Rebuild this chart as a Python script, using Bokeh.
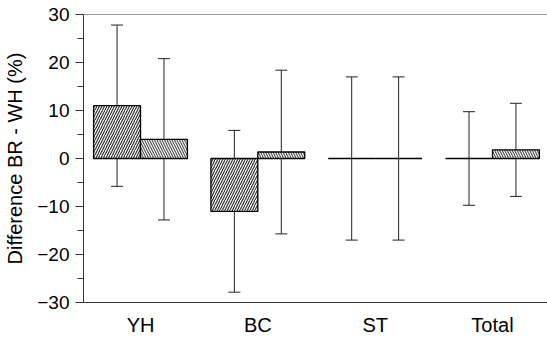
from bokeh.plotting import figure
from bokeh.models import ColumnDataSource, Whisker, TeeHead, Span, FixedTicker
from bokeh.embed import file_html
from bokeh.resources import INLINE

categories = ["YH", "BC", "ST", "Total"]
series1 = [11.0, -11.0, 0.0, 0.0]
err1 = [16.8, 16.85, 17.0, 9.75]
series2 = [4.0, 1.35, 0.0, 1.8]
err2 = [16.8, 17.05, 17.0, 9.7]
y_ticks = [-30, -20, -10, 0, 10, 20, 30]

pos = list(range(len(categories)))
bw = 0.4
x1 = [p - bw / 2 for p in pos]
x2 = [p + bw / 2 for p in pos]

src1 = ColumnDataSource(dict(x=x1, top=series1,
                             upper=[v + e for v, e in zip(series1, err1)],
                             lower=[v - e for v, e in zip(series1, err1)]))
src2 = ColumnDataSource(dict(x=x2, top=series2,
                             upper=[v + e for v, e in zip(series2, err2)],
                             lower=[v - e for v, e in zip(series2, err2)]))

p = figure(width=547, height=338, output_backend="svg", toolbar_location=None,
           x_range=(-0.486, 3.469), y_range=(-30, 30),
           min_border_left=83, min_border_right=0, min_border_top=14, min_border_bottom=32)
p.outline_line_color = None
p.background_fill_color = "white"
p.border_fill_color = "white"
p.grid.visible = False

p.vbar(x="x", top="top", bottom=0, width=bw, source=src1,
       fill_color="white", line_color="black", line_width=1.3,
       hatch_pattern="right_diagonal_line", hatch_color="#333333",
       hatch_scale=5, hatch_weight=1.2)
p.vbar(x="x", top="top", bottom=0, width=bw, source=src2,
       fill_color="white", line_color="black", line_width=1.3,
       hatch_pattern="left_diagonal_line", hatch_color="#555555",
       hatch_scale=5, hatch_weight=1.2)

for s in (src1, src2):
    w = Whisker(base="x", upper="upper", lower="lower", source=s,
                line_color="#222222", line_width=1,
                upper_head=TeeHead(size=12, line_color="#222222", line_width=1),
                lower_head=TeeHead(size=12, line_color="#222222", line_width=1))
    p.add_layout(w)

p.add_layout(Span(location=30, dimension="width", line_color="#333333", line_width=1.2))

yax = p.yaxis[0]
yax.ticker = FixedTicker(ticks=y_ticks, minor_ticks=[-25, -15, -5, 5, 15, 25])
yax.axis_label = "Difference BR - WH (%)"
yax.axis_label_text_font = "Liberation Sans"
yax.axis_label_text_font_style = "normal"
yax.axis_label_text_font_size = "20px"
yax.axis_label_text_color = "black"
yax.axis_label_standoff = 8
yax.major_label_text_font = "Liberation Sans"
yax.major_label_text_font_size = "19px"
yax.major_label_standoff = 6
yax.major_tick_out = 8
yax.major_tick_in = 0
yax.minor_tick_out = 6
yax.minor_tick_in = 0
yax.axis_line_color = "#333333"
yax.major_tick_line_color = "#333333"
yax.minor_tick_line_color = "#333333"
yax.major_label_text_color = "black"

xax = p.xaxis[0]
xax.ticker = FixedTicker(ticks=pos, minor_ticks=[])
xax.major_label_overrides = {i: c for i, c in zip(pos, categories)}
xax.major_label_text_font = "Liberation Sans"
xax.major_label_text_font_size = "20px"
xax.major_label_standoff = 11
xax.major_tick_out = 0
xax.major_tick_in = 0
xax.minor_tick_out = 0
xax.axis_line_color = "#333333"
xax.major_label_text_color = "black"

open("out.html", "w").write(file_html(p, INLINE))
